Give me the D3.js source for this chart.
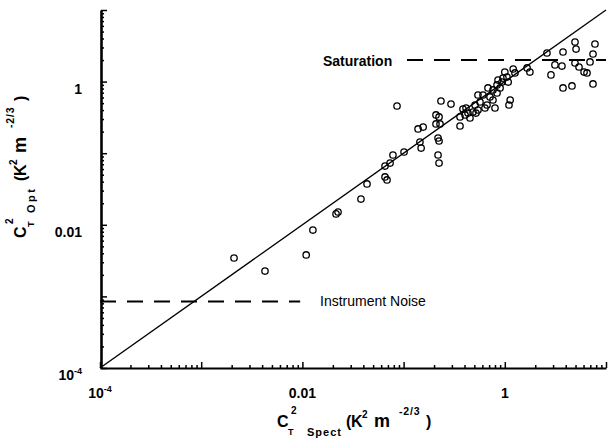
<!DOCTYPE html>
<html>
<head>
<meta charset="utf-8">
<script src="https://cdn.jsdelivr.net/npm/d3@7"></script>
<style>
  body { margin: 0; background: #fff; }
  text { font-family: "Liberation Sans", Arial, Helvetica, sans-serif; fill: #000; }
</style>
</head>
<body>
<svg id="chart" width="612" height="440"></svg>
<script>
// CT2 from spectra (x) vs CT2 from optics (y), K^2 m^-2/3
var xSpect = [0.00211, 0.00427, 0.0109, 0.0127, 0.0215, 0.0225, 0.0379, 0.0435, 0.0655, 0.0686,
  0.0655, 0.0735, 0.0785, 0.101, 0.0861, 0.139, 0.156, 0.145, 0.149, 0.209,
  0.224, 0.209, 0.229, 0.219, 0.224, 0.219, 0.224, 0.234, 0.294, 0.361,
  0.361, 0.386, 0.414, 0.405, 0.433, 0.485, 0.543, 0.569, 0.543, 0.637,
  0.667, 0.714, 0.764, 0.609, 0.682, 0.764, 0.838, 0.838, 0.857, 0.938,
  0.959, 1.05, 1.00, 1.08, 1.13, 1.10, 1.21, 1.26, 1.66, 1.77,
  2.61, 3.76, 4.94, 5.06, 7.78, 7.44, 6.95, 3.13, 3.67, 2.86,
  4.94, 5.41, 6.07, 6.49, 3.76, 4.61, 7.44, 0.453, 0.508, 0.800,
  0.898, 0.519];
var yOpt = [0.00344, 0.00226, 0.00379, 0.00845, 0.0142, 0.0151, 0.0229, 0.0372, 0.0466, 0.0423,
  0.0662, 0.0729, 0.0944, 0.104, 0.456, 0.218, 0.232, 0.143, 0.118, 0.342,
  0.321, 0.256, 0.256, 0.163, 0.148, 0.0944, 0.0729, 0.536, 0.486, 0.240,
  0.321, 0.414, 0.428, 0.342, 0.364, 0.376, 0.650, 0.519, 0.401, 0.428,
  0.471, 0.610, 0.553, 0.650, 0.815, 0.764, 0.898, 0.693, 1.05, 0.986,
  1.12, 1.16, 1.36, 0.986, 0.553, 0.471, 1.50, 1.32, 1.55, 1.36,
  2.51, 2.59, 3.57, 2.85, 3.35, 2.43, 1.88, 1.71, 1.65, 1.24,
  1.82, 1.60, 1.36, 1.32, 0.815, 0.869, 0.927, 0.310, 0.471, 0.428,
  0.815, 0.364];

var axisDomain = [1e-4, 10];
var labelTicks = [1e-4, 0.01, 1];
var tickText = ["10", "0.01", "1"];
var tickSup = ["-4", "", ""];
var noiseLevel = 8.5e-4, noiseEnd = 0.0095;
var saturationLevel = 2.0, saturationStart = 0.108;

var svg = d3.select("#chart");
svg.append("rect").attr("width", 612).attr("height", 440).attr("fill", "#fff");

var x = d3.scaleLog().domain(axisDomain).range([100, 606]);
var y = d3.scaleLog().domain(axisDomain).range([368, 10]);

function isMajor(d) {
  var l = Math.log10(d);
  return Math.abs(l - Math.round(l)) < 1e-6;
}

// axes, ticks pointing inward
var xAxis = svg.append("g")
  .attr("transform", "translate(0,368)")
  .call(d3.axisBottom(x).tickValues(x.ticks()).tickSize(-6).tickSizeOuter(0).tickFormat(""));
xAxis.selectAll(".tick line").attr("y2", function(d) { return isMajor(d) ? -6 : -3; })
  .attr("stroke-width", 1.5);
xAxis.select(".domain").attr("stroke-width", 2.2);

var yAxis = svg.append("g")
  .attr("transform", "translate(101,0)")
  .call(d3.axisLeft(y).tickValues(y.ticks()).tickSize(-6).tickSizeOuter(0).tickFormat(""));
yAxis.selectAll(".tick line").attr("x2", function(d) { return isMajor(d) ? 6 : 3; })
  .attr("stroke-width", 1.5);
yAxis.select(".domain").attr("stroke-width", 2.6);

// tick labels
labelTicks.forEach(function(v, i) {
  var tx = svg.append("text")
    .attr("x", x(v)).attr("y", 398)
    .attr("text-anchor", "middle")
    .style("font-size", "14px").style("font-weight", "bold")
    .text(tickText[i]);
  if (tickSup[i]) tx.append("tspan").attr("dy", -6).style("font-size", "9px").text(tickSup[i]);

  var ty = svg.append("text")
    .attr("x", 82).attr("y", y(v) + 12)
    .attr("text-anchor", "end")
    .style("font-size", "14px").style("font-weight", "bold")
    .text(tickText[i]);
  if (tickSup[i]) ty.append("tspan").attr("dy", -6).style("font-size", "9px").text(tickSup[i]);
});

// 1:1 line
svg.append("line")
  .attr("x1", x(axisDomain[0])).attr("y1", y(axisDomain[0]))
  .attr("x2", x(axisDomain[1])).attr("y2", y(axisDomain[1]))
  .attr("stroke", "#000").attr("stroke-width", 1.3);

// noise and saturation levels
svg.append("line")
  .attr("x1", x(axisDomain[0])).attr("x2", x(noiseEnd))
  .attr("y1", y(noiseLevel)).attr("y2", y(noiseLevel))
  .attr("stroke", "#000").attr("stroke-width", 2).attr("stroke-dasharray", "16,11");
svg.append("line")
  .attr("x1", x(saturationStart)).attr("x2", x(axisDomain[1]))
  .attr("y1", y(saturationLevel)).attr("y2", y(saturationLevel))
  .attr("stroke", "#000").attr("stroke-width", 2).attr("stroke-dasharray", "16,11");

svg.append("text")
  .attr("x", 320).attr("y", y(noiseLevel) + 5)
  .style("font-size", "14px")
  .text("Instrument Noise");
svg.append("text")
  .attr("x", 323).attr("y", y(saturationLevel) + 6)
  .style("font-size", "14px").style("font-weight", "bold")
  .text("Saturation");

// points
svg.append("g").selectAll("circle")
  .data(xSpect)
  .join("circle")
  .attr("cx", function(d) { return x(d); })
  .attr("cy", function(d, i) { return y(yOpt[i]); })
  .attr("r", 3.2)
  .attr("fill", "none")
  .attr("stroke", "#000")
  .attr("stroke-width", 1.3);

// axis titles, built from pieces (text, dx, dy, size, letter spacing)
function title(g, sub) {
  var opt = sub === "Opt";
  var parts = [
    ["C", 0, 0, 16, 0], ["2", 14, -13, 10, 0], ["T", 11, 8, 9, 0],
    [sub, opt ? 25 : 30, 9, 11, opt ? 2.5 : 1]
  ];
  var o = opt ? 57 : 69;
  parts.push(["(", o, 0, 16, 0], ["K", o + 5, 0, 16, 0], ["2", o + 16, -9, 10, 0],
    ["m", o + 28, 0, 18, 0], ["-2/3", o + 53, -12, 10.5, 0.8], [")", o + 80, 0, 16, 0]);
  parts.forEach(function(p) {
    g.append("text").attr("x", p[1]).attr("y", p[2])
      .style("font-size", p[3] + "px").style("font-weight", "bold")
      .style("letter-spacing", p[4] + "px").text(p[0]);
  });
}
title(svg.append("g").attr("transform", "translate(277,427)"), "Spect");
title(svg.append("g").attr("transform", "translate(26,238) rotate(-90)"), "Opt");
</script>
</body>
</html>
